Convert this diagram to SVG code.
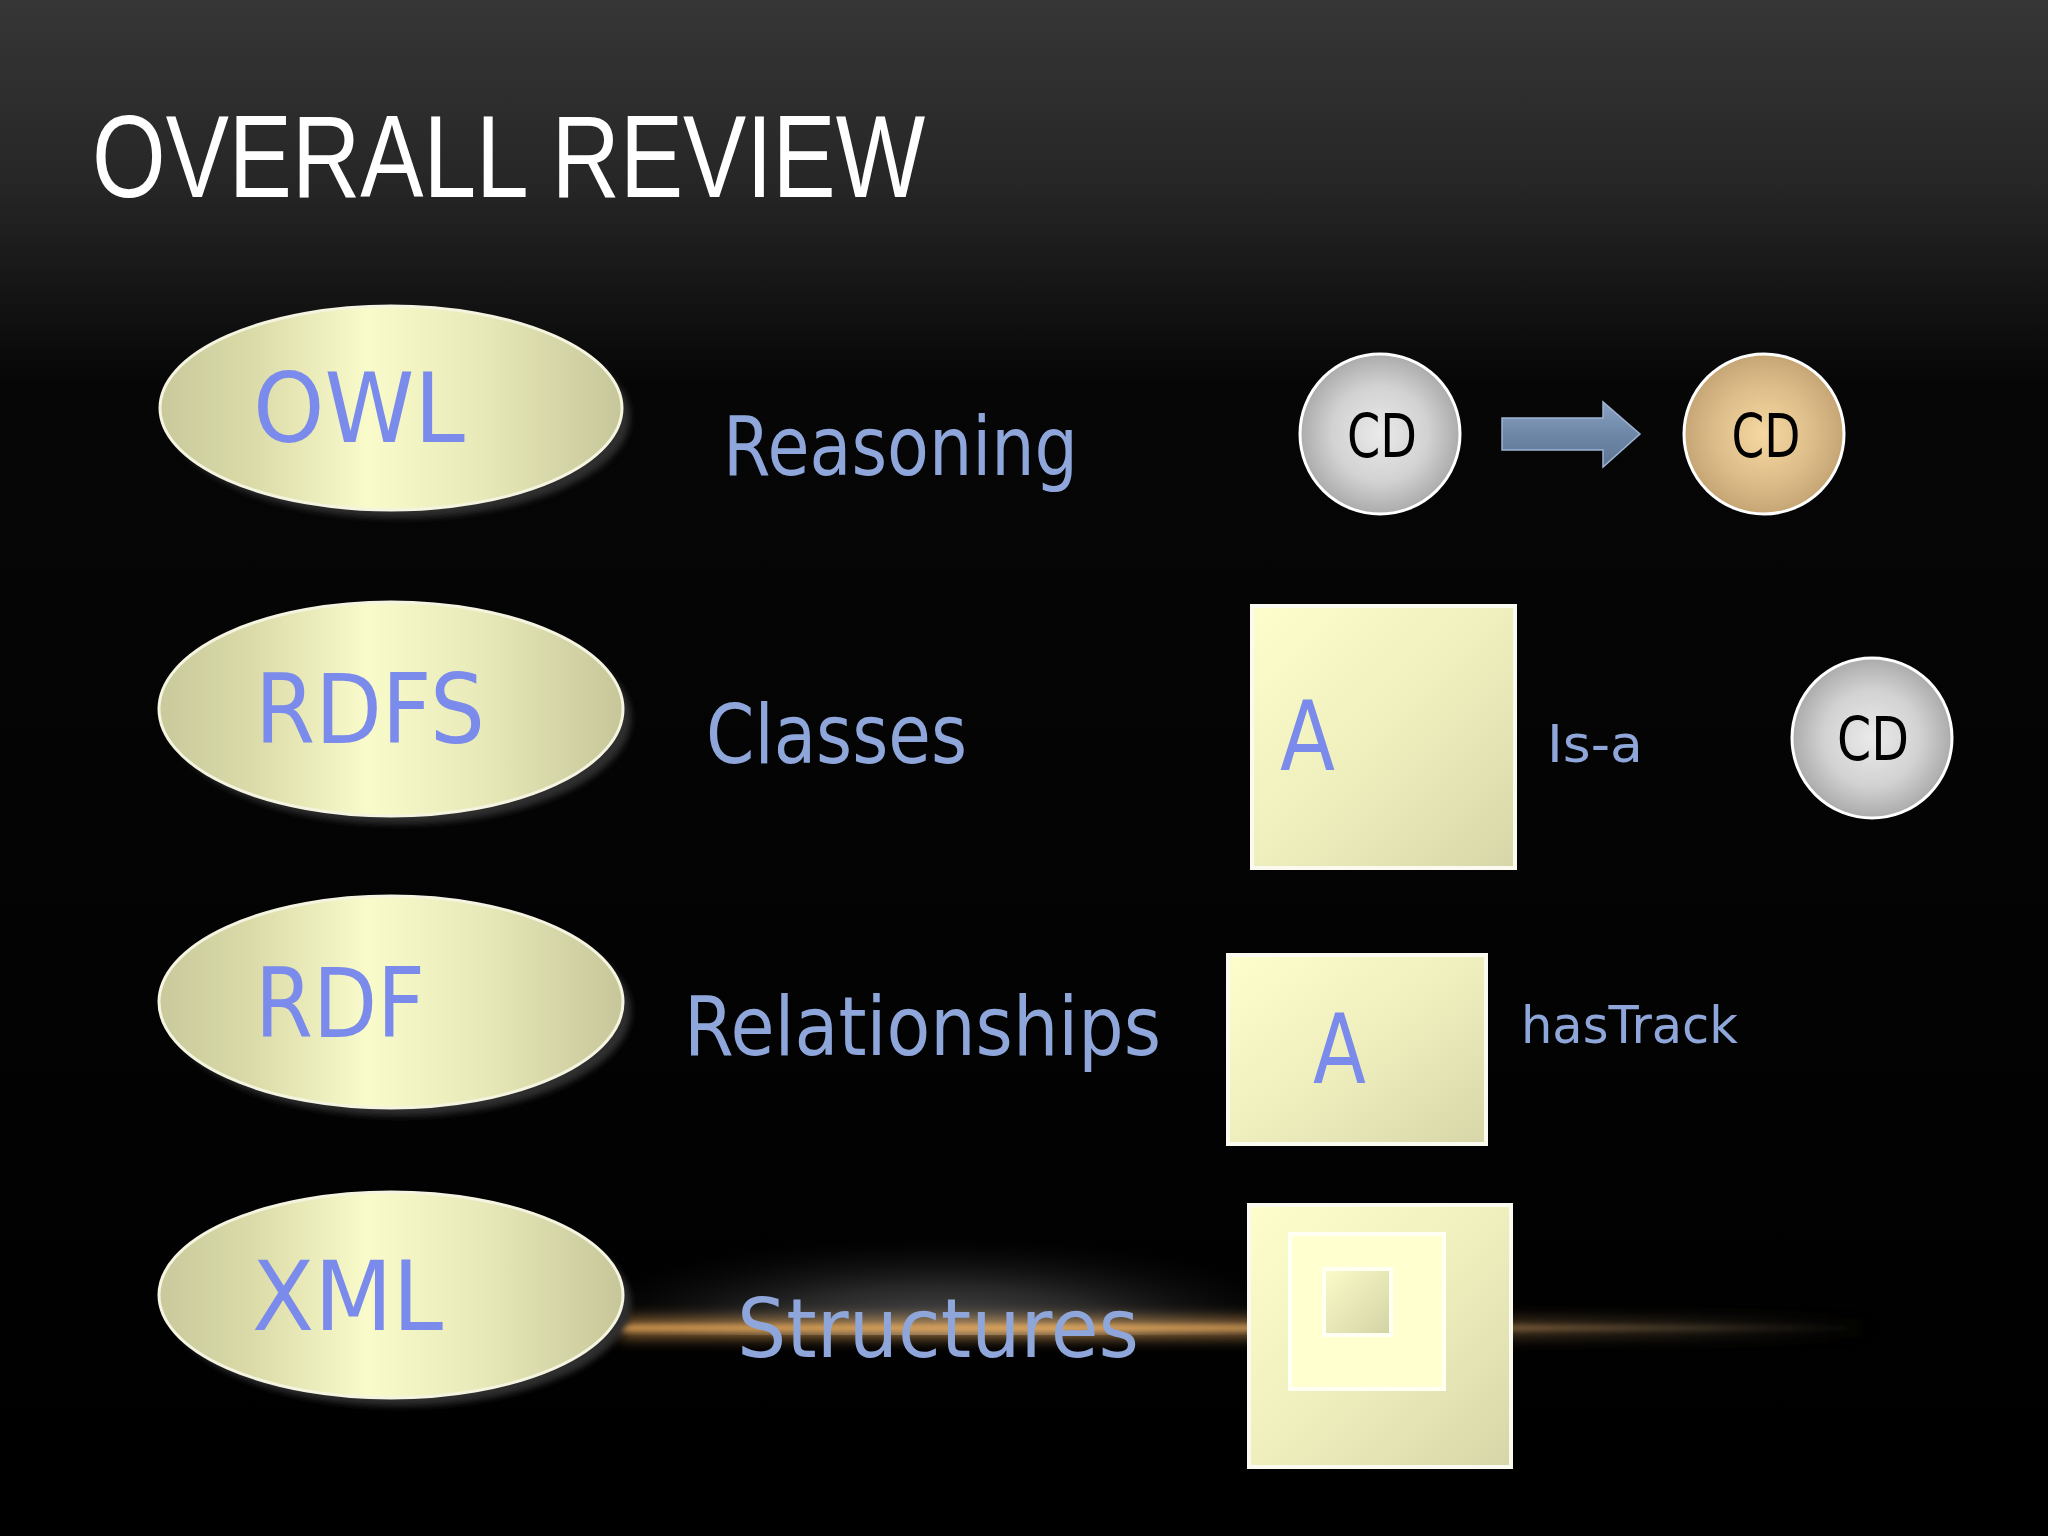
<svg xmlns="http://www.w3.org/2000/svg" width="2048" height="1536" viewBox="0 0 2048 1536">
<defs>
<linearGradient id="bg" x1="0" y1="0" x2="0" y2="1">
<stop offset="0" stop-color="#363636"/>
<stop offset="0.12" stop-color="#262626"/>
<stop offset="0.25" stop-color="#060606"/>
<stop offset="1" stop-color="#000"/>
</linearGradient>
<linearGradient id="ell" x1="0" y1="0" x2="1" y2="0">
<stop offset="0" stop-color="#C9C99C"/>
<stop offset="0.2" stop-color="#DADBA8"/>
<stop offset="0.45" stop-color="#FAFBCB"/>
<stop offset="0.7" stop-color="#E8E9B8"/>
<stop offset="1" stop-color="#C6C69A"/>
</linearGradient>
<linearGradient id="box" x1="0" y1="0" x2="1" y2="1">
<stop offset="0" stop-color="#FEFECC"/>
<stop offset="0.5" stop-color="#EFEFBE"/>
<stop offset="1" stop-color="#D6D6A8"/>
</linearGradient>
<linearGradient id="box2" x1="0" y1="0" x2="1" y2="1">
<stop offset="0" stop-color="#FCFCCA"/>
<stop offset="1" stop-color="#D2D2A4"/>
</linearGradient>
<radialGradient id="gray" cx="0.5" cy="0.5" r="0.5">
<stop offset="0" stop-color="#EAEAEA"/>
<stop offset="0.6" stop-color="#D2D2D2"/>
<stop offset="1" stop-color="#ABABAB"/>
</radialGradient>
<radialGradient id="tan" cx="0.5" cy="0.5" r="0.5">
<stop offset="0" stop-color="#F6D8A2"/>
<stop offset="0.6" stop-color="#DDBE8A"/>
<stop offset="1" stop-color="#C6A575"/>
</radialGradient>
<linearGradient id="arr" x1="0" y1="0" x2="0" y2="1">
<stop offset="0" stop-color="#8BA2C2"/>
<stop offset="0.5" stop-color="#6E87A6"/>
<stop offset="1" stop-color="#5C7594"/>
</linearGradient>
<linearGradient id="glow" x1="0" y1="0" x2="1" y2="0">
<stop offset="0" stop-color="#D0964E" stop-opacity="0.9"/>
<stop offset="0.35" stop-color="#E0A860" stop-opacity="1"/>
<stop offset="0.6" stop-color="#B88448" stop-opacity="0.8"/>
<stop offset="0.85" stop-color="#6E5A40" stop-opacity="0.4"/>
<stop offset="1" stop-color="#403628" stop-opacity="0"/>
</linearGradient>
<radialGradient id="haze" cx="0.5" cy="1" r="0.5">
<stop offset="0" stop-color="#606060" stop-opacity="0.95"/>
<stop offset="0.5" stop-color="#383838" stop-opacity="0.7"/>
<stop offset="1" stop-color="#111" stop-opacity="0"/>
</radialGradient>
<filter id="blur3" x="-10%" y="-10%" width="120%" height="120%"><feGaussianBlur stdDeviation="3"/></filter>
<filter id="blur2" x="-5%" y="-200%" width="110%" height="500%"><feGaussianBlur stdDeviation="2.5"/></filter>
<filter id="blur8" x="-5%" y="-300%" width="110%" height="700%"><feGaussianBlur stdDeviation="7"/></filter>
</defs>
<style>
.ellipse{fill:url(#ell);stroke:#F4F4E0;stroke-width:3}
.shadow{fill:#2e2e2e;filter:url(#blur3)}
.elabel{font-family:"Comic Sans MS","DejaVu Sans",sans-serif;font-size:96px;fill:#7B8BEB}
.mlabel{font-family:"Comic Sans MS","DejaVu Sans",sans-serif;font-size:82px;fill:#8EA6DA}
.slabel{font-family:"Comic Sans MS","DejaVu Sans",sans-serif;font-size:52px;fill:#8EA6DA}
.cd{font-family:"Comic Sans MS","DejaVu Sans",sans-serif;font-size:60px;fill:#000;text-anchor:middle}
.box{fill:url(#box);stroke:#FAFAF0;stroke-width:4}
.circ{stroke:#FFFFFF;stroke-width:3}
</style>
<rect width="2048" height="1536" fill="url(#bg)"/>

<g id="title">
<text x="92" y="197" font-family="Liberation Sans, Arial, sans-serif" font-size="116" fill="#FFFFFF" textLength="833" lengthAdjust="spacingAndGlyphs">OVERALL REVIEW</text>
</g>

<g id="glow-band">
<rect x="560" y="1140" width="760" height="195" fill="url(#haze)"/>
<rect x="620" y="1318" width="1260" height="20" fill="url(#glow)" filter="url(#blur8)" opacity="0.7"/>
<rect x="620" y="1325" width="1250" height="6" fill="url(#glow)" filter="url(#blur2)"/>
</g>

<g id="node-owl">
<ellipse class="shadow" cx="400" cy="417" rx="230" ry="101"/>
<ellipse class="ellipse" cx="391" cy="408" rx="231" ry="102"/>
<text class="elabel" x="253" y="442" textLength="212" lengthAdjust="spacingAndGlyphs">OWL</text>
</g>
<g id="node-rdfs">
<ellipse class="shadow" cx="400" cy="718" rx="231" ry="106"/>
<ellipse class="ellipse" cx="391" cy="709" rx="232" ry="107"/>
<text class="elabel" x="255" y="743" textLength="230" lengthAdjust="spacingAndGlyphs">RDFS</text>
</g>
<g id="node-rdf">
<ellipse class="shadow" cx="400" cy="1011" rx="231" ry="105"/>
<ellipse class="ellipse" cx="391" cy="1002" rx="232" ry="106"/>
<text class="elabel" x="255" y="1037" textLength="170" lengthAdjust="spacingAndGlyphs">RDF</text>
</g>
<g id="node-xml">
<ellipse class="shadow" cx="400" cy="1304" rx="231" ry="102"/>
<ellipse class="ellipse" cx="391" cy="1295" rx="232" ry="103"/>
<text class="elabel" x="252" y="1330" textLength="191" lengthAdjust="spacingAndGlyphs">XML</text>
</g>

<g id="label-reasoning"><text class="mlabel" x="723" y="475" textLength="355" lengthAdjust="spacingAndGlyphs">Reasoning</text></g>
<g id="label-classes"><text class="mlabel" x="706" y="763" textLength="261" lengthAdjust="spacingAndGlyphs">Classes</text></g>
<g id="label-relationships"><text class="mlabel" x="684" y="1055" textLength="477" lengthAdjust="spacingAndGlyphs">Relationships</text></g>
<g id="label-structures"><text class="mlabel" x="737" y="1357" textLength="402" lengthAdjust="spacingAndGlyphs">Structures</text></g>

<g id="node-cd1">
<circle class="circ" cx="1380" cy="434" r="80" fill="url(#gray)"/>
<text class="cd" x="1382" y="457" textLength="70" lengthAdjust="spacingAndGlyphs">CD</text>
</g>
<g id="connectors">
<path d="M1502,418 H1603 V402 L1640,434 L1603,467 V450 H1502 Z" fill="url(#arr)" stroke="#9DB3D3" stroke-width="1.5"/>
</g>
<g id="node-cd2">
<circle class="circ" cx="1764" cy="434" r="80" fill="url(#tan)"/>
<text class="cd" x="1766" y="457" textLength="69" lengthAdjust="spacingAndGlyphs">CD</text>
</g>

<g id="node-a-class">
<rect class="box" x="1252" y="606" width="263" height="262"/>
<text class="elabel" x="1280" y="770" font-size="92" textLength="55" lengthAdjust="spacingAndGlyphs">A</text>
</g>
<g id="label-isa"><text class="slabel" x="1547" y="762" textLength="96" lengthAdjust="spacingAndGlyphs">Is-a</text></g>
<g id="node-cd3">
<circle class="circ" cx="1872" cy="738" r="80" fill="url(#gray)"/>
<text class="cd" x="1873" y="760" textLength="72" lengthAdjust="spacingAndGlyphs">CD</text>
</g>

<g id="node-a-rel">
<rect class="box" x="1228" y="955" width="258" height="189"/>
<text class="elabel" x="1313" y="1083" font-size="92" textLength="53" lengthAdjust="spacingAndGlyphs">A</text>
</g>
<g id="label-hastrack"><text class="slabel" x="1521" y="1043" textLength="217" lengthAdjust="spacingAndGlyphs">hasTrack</text></g>

<g id="node-structure">
<rect class="box" x="1249" y="1205" width="262" height="262"/>
<rect x="1290" y="1234" width="154" height="155" fill="#FFFFD0" stroke="#FFFFF4" stroke-width="4"/>
<rect x="1324" y="1269" width="67" height="66" fill="url(#box2)" stroke="#FFFFF4" stroke-width="4"/>
</g>
</svg>
